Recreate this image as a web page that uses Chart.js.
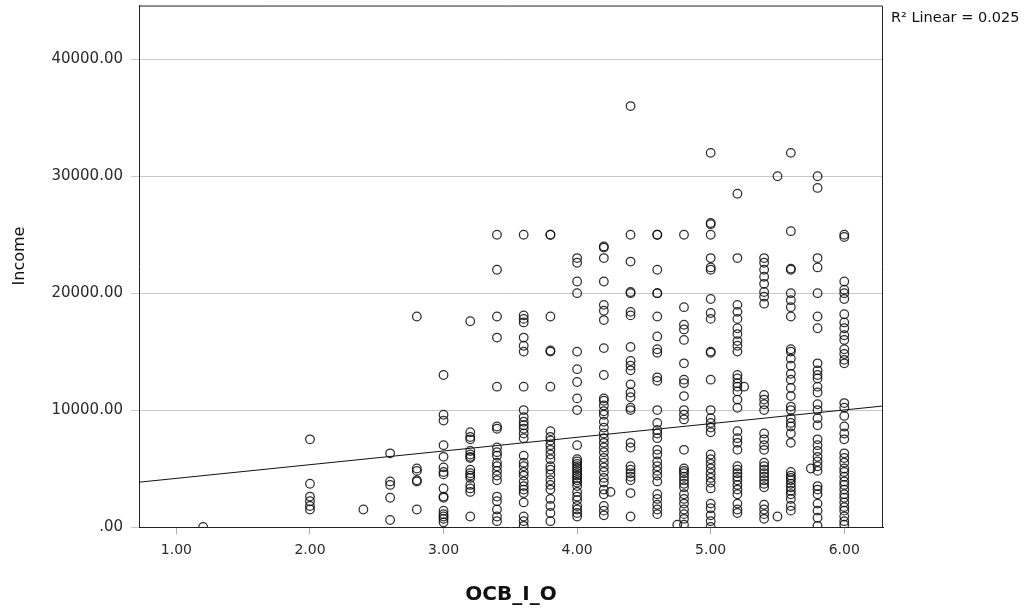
<!doctype html>
<html lang="en">
  <head>
    <meta charset="utf-8">
    <title>OCB_I_O vs Income</title>
    <script src="https://cdn.jsdelivr.net/npm/chart.js"></script>
    <style>
      body { margin: 0; background: #fff; }
      #wrap { width: 1025px; height: 611px; }
    </style>
  </head>
  <body>
    <div id="wrap"><canvas id="scatterChart" width="1025" height="611"></canvas></div>
    <script>
      // OCB_I_O levels and the Income values seen at each level
      const ocbLevels = [1.2, 2.0, 2.4, 2.6, 2.8, 3.0, 3.2, 3.4, 3.6, 3.8, 4.0, 4.2, 4.4, 4.6, 4.8, 5.0, 5.2, 5.4, 5.6, 5.8, 6.0];
      const incomeAtLevel = [
        [0],
        [7500, 3700, 2600, 2200, 1800, 1500],
        [1500],
        [6300, 3900, 3600, 2500, 600],
        [18000, 5000, 4800, 4000, 3900, 1500],
        [13000, 9600, 9100, 7000, 6000, 5100, 4700, 4500, 3300, 2600, 2500, 1400, 1100, 900, 700, 400],
        [17600, 8100, 7700, 7500, 6500, 6200, 6000, 5900, 4900, 4600, 4400, 4200, 3600, 3300, 3000, 900],
        [25000, 22000, 18000, 16200, 12000, 8600, 8400, 6800, 6400, 6100, 5500, 5200, 4800, 4400, 4000, 2600, 2200, 1500, 900, 500],
        [25000, 18100, 17800, 17500, 16200, 15500, 15000, 12000, 10000, 9400, 9000, 8700, 8400, 8000, 7600, 6100, 5500, 5200, 4700, 4400, 3900, 3500, 3200, 2900, 2100, 900, 500, 100],
        [25000, 25000, 18000, 15100, 15000, 12000, 8200, 7700, 7400, 7000, 6600, 6200, 5800, 5200, 4900, 4500, 4000, 3600, 3200, 2400, 1800, 1200, 500],
        [23000, 22600, 21000, 20000, 15000, 13500, 12400, 11000, 10000, 7000, 5800, 5600, 5400, 5200, 5000, 4800, 4600, 4400, 4200, 4000, 3800, 3500, 3000, 2600, 2300, 1800, 1500, 1200, 900],
        [24000, 23900, 23000, 21000, 19000, 18500, 17700, 15300, 13000, 11000, 10800, 10400, 9900, 9600, 9000, 8500, 8000, 7600, 7200, 6800, 6400, 5900, 5500, 5100, 4700, 4200, 3800, 3200, 2800, 1800, 1400, 1000],
        [36000, 25000, 22700, 20000, 20100, 18400, 18100, 15400, 14200, 13800, 13400, 12200, 11500, 11100, 10200, 10000, 7200, 6800, 5200, 4900, 4600, 4300, 4000, 2900, 900],
        [25000, 25000, 22000, 20000, 20000, 18000, 16300, 15200, 14900, 12800, 12500, 10000, 8900, 8300, 8000, 7600, 6600, 6200, 5600, 5200, 4800, 4400, 3900, 2800, 2400, 1900, 1500, 1100],
        [25000, 18800, 17300, 16900, 16000, 14000, 12600, 12300, 11200, 10000, 9600, 9200, 6600, 5000, 4800, 4600, 4300, 4000, 3700, 3400, 2800, 2400, 2000, 1500, 1100, 700, 200],
        [32000, 26000, 25900, 25000, 23000, 22200, 22000, 19500, 18300, 17800, 15000, 14900, 12600, 10000, 9300, 8900, 8500, 8100, 6200, 5800, 5400, 5000, 4600, 4200, 3800, 3300, 2000, 1600, 1000, 500, 0],
        [28500, 23000, 19000, 18400, 17800, 17000, 16500, 15900, 15500, 15000, 13000, 12700, 12300, 12000, 11600, 10900, 10200, 8200, 7600, 7200, 6600, 5200, 4900, 4600, 4300, 4000, 3600, 3200, 2800, 2000, 1500, 1200],
        [23000, 22600, 22000, 21400, 20800, 20100, 19700, 19100, 11300, 10900, 10500, 10000, 8000, 7500, 7000, 6600, 5500, 5200, 4900, 4600, 4300, 4000, 3700, 3400, 1900, 1500, 1100, 700],
        [32000, 25300, 22100, 22000, 20000, 19400, 18800, 18000, 15200, 15000, 14400, 13800, 13100, 12600, 11900, 11200, 10300, 10000, 9300, 8900, 8600, 8000, 7200, 4700, 4400, 4200, 4000, 3700, 3400, 3100, 2800, 2400, 1800, 1400],
        [30000, 29000, 23000, 22200, 20000, 18000, 17000, 14000, 13400, 13000, 12700, 12000, 11500, 10500, 10000, 9300, 8700, 7500, 7000, 6500, 6000, 5600, 5200, 4800, 3500, 3200, 2800, 2000, 1400, 800, 100],
        [25000, 24800, 21000, 20300, 20000, 19500, 18200, 17500, 17000, 16400, 16000, 15200, 14800, 14300, 14000, 10600, 10200, 9500, 8600, 8000, 7500, 6300, 5900, 5500, 5000, 4700, 4300, 3900, 3600, 3200, 2800, 2500, 2100, 1700, 1400, 900, 500, 200]
      ];
      // cases that fall between the usual levels
      const offLevelX = [4.25, 4.75, 5.25, 5.5, 5.5, 5.75];
      const offLevelIncome = [3000, 200, 12000, 30000, 900, 5000];

      const xTicks = [1, 2, 3, 4, 5, 6];
      const yTicks = [0, 10000, 20000, 30000, 40000];

      // fit line
      const fitIntercept = 2990;
      const fitSlope = 1170;
      const rSquaredText = 'R\u00b2 Linear = 0.025';
      const yTitle = 'Income';

      const xMin = 0.72, xMax = 6.29, yMin = 0, yMax = 44600;

      const points = [];
      ocbLevels.forEach((x, i) => {
        incomeAtLevel[i].forEach(v => points.push({ x: x, y: v }));
      });
      offLevelX.forEach((x, i) => points.push({ x: x, y: offLevelIncome[i] }));

      const fitLine = [xMin, xMax].map(x => ({ x: x, y: fitIntercept + fitSlope * x }));

      function fmt(v) {
        const s = v.toFixed(2);
        return s.startsWith('0.') ? s.slice(1) : s;
      }

      const framePlugin = {
        id: 'frame',
        afterDraw(chart) {
          const { ctx, chartArea } = chart;
          ctx.save();
          ctx.strokeStyle = '#222';
          ctx.lineWidth = 1;
          ctx.beginPath();
          ctx.moveTo(chartArea.left, chartArea.top + 0.5);
          ctx.lineTo(chartArea.right - 0.5, chartArea.top + 0.5);
          ctx.lineTo(chartArea.right - 0.5, chartArea.bottom);
          ctx.stroke();
          ctx.fillStyle = '#111';
          ctx.font = '14.5px "DejaVu Sans"';
          ctx.textBaseline = 'middle';
          ctx.fillText(rSquaredText, chartArea.right + 8, 18);
          // y axis title, a little above centre as in the original
          ctx.translate(20, 256);
          ctx.rotate(-Math.PI / 2);
          ctx.textAlign = 'center';
          ctx.font = '16px "DejaVu Sans"';
          ctx.fillText(yTitle, 0, 0);
          ctx.restore();
        }
      };

      const ctx = document.getElementById('scatterChart').getContext('2d');
      new Chart(ctx, {
        type: 'scatter',
        data: {
          datasets: [
            {
              label: 'Income',
              data: points,
              pointStyle: 'circle',
              pointRadius: 4.3,
              pointBorderWidth: 1.25,
              borderColor: 'rgba(10,10,10,0.85)',
              backgroundColor: 'rgba(0,0,0,0)',
              order: 2
            },
            {
              type: 'line',
              label: 'Fit',
              data: fitLine,
              borderColor: '#111',
              borderWidth: 1,
              pointRadius: 0,
              fill: false,
              order: 1
            }
          ]
        },
        options: {
          responsive: false,
          animation: false,
          devicePixelRatio: 1,
          layout: { padding: { left: 0, top: 5, right: 142, bottom: 0 } },
          plugins: {
            legend: { display: false },
            tooltip: { enabled: false }
          },
          scales: {
            x: {
              type: 'linear',
              min: xMin,
              max: xMax,
              afterBuildTicks: s => { s.ticks = xTicks.map(v => ({ value: v })); },
              afterFit: s => { s.height = 84; s.paddingLeft = 0; s.paddingRight = 0; },
              grid: { drawOnChartArea: false, drawTicks: true, tickLength: 7, color: '#aaa' },
              border: { display: true, color: '#222', width: 1 },
              ticks: {
                padding: 8,
                color: '#2a2a2a',
                font: { family: 'DejaVu Sans', size: 14 },
                callback: v => fmt(v)
              },
              title: {
                display: true,
                text: 'OCB_I_O',
                color: '#111',
                font: { family: 'DejaVu Sans', size: 20, weight: 'bold' },
                padding: { top: 0, bottom: 4 }
              }
            },
            y: {
              type: 'linear',
              min: yMin,
              max: yMax,
              afterBuildTicks: s => { s.ticks = yTicks.map(v => ({ value: v })); },
              afterFit: s => { s.width = 139; s.paddingTop = 0; s.paddingBottom = 0; },
              grid: { drawOnChartArea: true, drawTicks: true, tickLength: 8, color: '#c8c8c8' },
              border: { display: true, color: '#222', width: 1 },
              ticks: {
                padding: 8,
                color: '#2a2a2a',
                font: { family: 'DejaVu Sans', size: 15 },
                callback: v => fmt(v)
              },
              title: { display: false }
            }
          }
        },
        plugins: [framePlugin]
      });
    </script>
  </body>
</html>
